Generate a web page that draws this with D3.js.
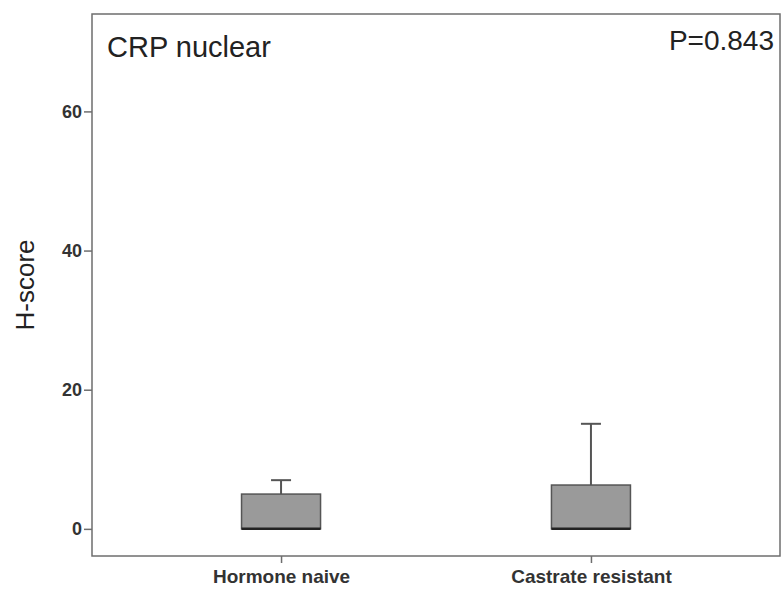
<!DOCTYPE html>
<html><head><meta charset="utf-8">
<script src="https://cdn.jsdelivr.net/npm/d3@7"></script>
<style>body{margin:0;background:#fff}svg{display:block}text{font-family:"Liberation Sans",Arial,sans-serif}</style>
</head><body><svg id="c" width="781" height="590"></svg>
<script>
const categories = ["Hormone naive", "Castrate resistant"];
const q1 = [0, 0];
const median = [0, 0];
const q3 = [5.0, 6.3];
const whiskerLow = [0, 0];
const whiskerHigh = [7.0, 15.1];
const yTicks = [0, 20, 40, 60];
const title = "CRP nuclear";
const pText = "P=0.843";
const yLabel = "H-score";

const svg = d3.select("#c");
const L = 92, R = 780, T = 14, B = 556;
const y = d3.scaleLinear().domain([-3.9, 74]).range([B, T]);
const x = d3.scalePoint().domain(categories).range([L, R]).padding(0.61);
const boxW = 79, capW = 20;

// frame
svg.append("rect").attr("x", L).attr("y", T).attr("width", R - L).attr("height", B - T)
  .attr("fill", "none").attr("stroke", "#6e6e6e").attr("stroke-width", 1.5);

// y axis
const ya = svg.append("g").attr("transform", `translate(${L},0)`)
  .call(d3.axisLeft(y).tickValues(yTicks).tickSize(8).tickPadding(2).tickFormat(d3.format("d")));
ya.select(".domain").remove();
ya.selectAll("line").attr("stroke", "#6e6e6e").attr("stroke-width", 1.5);
ya.selectAll("text").attr("font-size", 18).attr("font-weight", "bold").attr("fill", "#333")
  .attr("font-family", "'Liberation Sans',Arial,sans-serif");

// x axis
const xa = svg.append("g").attr("transform", `translate(0,${B})`)
  .call(d3.axisBottom(x).tickSize(7).tickPadding(7));
xa.select(".domain").remove();
xa.selectAll("line").attr("stroke", "#6e6e6e").attr("stroke-width", 1.5);
xa.selectAll("text").attr("font-size", 19).attr("font-weight", "bold").attr("fill", "#333")
  .attr("font-family", "'Liberation Sans',Arial,sans-serif");

// boxes
categories.forEach((c, i) => {
  const cx = x(c);
  const g = svg.append("g");
  g.append("line").attr("x1", cx).attr("x2", cx).attr("y1", y(q3[i])).attr("y2", y(whiskerHigh[i]))
    .attr("stroke", "#555").attr("stroke-width", 2);
  g.append("line").attr("x1", cx - capW / 2).attr("x2", cx + capW / 2)
    .attr("y1", y(whiskerHigh[i])).attr("y2", y(whiskerHigh[i])).attr("stroke", "#555").attr("stroke-width", 2);
  g.append("rect").attr("x", cx - boxW / 2).attr("y", y(q3[i])).attr("width", boxW)
    .attr("height", y(q1[i]) - y(q3[i])).attr("fill", "#9a9a9a").attr("stroke", "#555").attr("stroke-width", 1.5);
  g.append("line").attr("x1", cx - boxW / 2).attr("x2", cx + boxW / 2)
    .attr("y1", y(median[i])).attr("y2", y(median[i])).attr("stroke", "#222").attr("stroke-width", 2.5);
});

// texts
svg.append("text").attr("x", 107).attr("y", 57).attr("font-size", 29).attr("fill", "#222").text(title);
svg.append("text").attr("x", 774).attr("y", 50).attr("text-anchor", "end").attr("font-size", 28)
  .attr("fill", "#222").text(pText);
svg.append("text").attr("transform", "translate(34,285) rotate(-90)").attr("text-anchor", "middle")
  .attr("font-size", 26).attr("fill", "#222").text(yLabel);
</script></body></html>
